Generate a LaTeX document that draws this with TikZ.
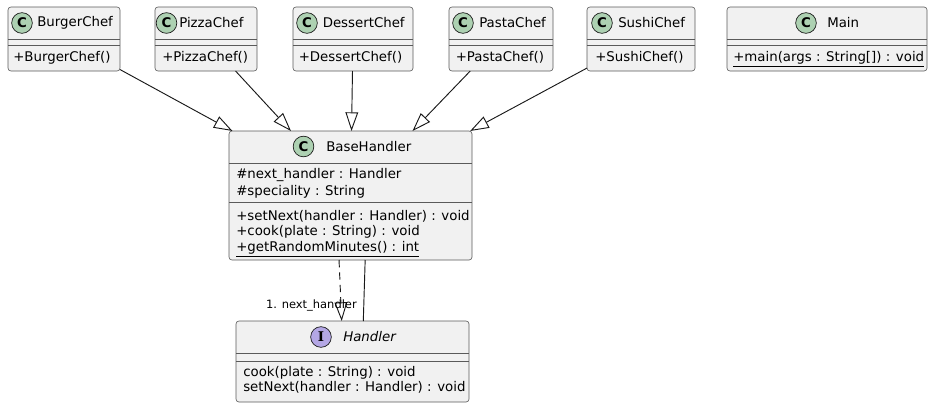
\documentclass[tikz,border=0pt]{standalone}
\usepackage{fontspec}
\setmainfont{DejaVu Sans}
\newfontfamily\iconserif{DejaVu Serif}
\usetikzlibrary{arrows.meta}
\definecolor{umlfill}{HTML}{F1F1F1}
\definecolor{umlline}{HTML}{181818}
\definecolor{umlsep}{HTML}{5A5A5A}
\definecolor{umlgreen}{HTML}{ADD1B2}
\definecolor{umlpurple}{HTML}{B4A7E5}
\tikzset{
  classbox/.style={draw=umlsep, fill=umlfill, line width=0.45pt, rounded corners=2.2pt, inner sep=0pt, outer sep=0pt},
  classicon/.style={circle, draw=umlline, line width=0.5pt, inner sep=0pt, minimum size=15.5pt, font=\fontsize{10}{10}\selectfont\bfseries},
  classname/.style={anchor=west, inner sep=0pt, font=\fontsize{10}{12}\selectfont},
  member/.style={anchor=west, inner sep=0pt, text height=7.4pt, text depth=2.1pt, font=\fontsize{10}{12}\selectfont},
  extends/.style={draw=umlline, line width=0.7pt, -{Triangle[open, length=14pt, width=9.5pt]}},
  edgelabel/.style={anchor=east, inner sep=0pt, font=\fontsize{8.6}{10}\selectfont}
}
\def\classbox(#1)(#2:#3:#4:#5){\node[classbox, minimum width={(#4-#2)*0.75pt}, minimum height={(#5-#3)*0.75pt}] (#1) at ({(#2+#4)/2},{(#3+#5)/2}) {};}
\def\sepline(#1)(#2){\draw[umlsep, line width=0.45pt] (#1.west |- 0,#2) -- (#1.east |- 0,#2);}

\begin{document}
\begin{tikzpicture}[x=0.75pt, y=-0.75pt]
			\useasboundingbox (0,0) rectangle (933,407);
			%%%%% CHEFS %%%%%
			\classbox(burger)(8:7:120:71)
			\sepline(burger)(39) \sepline(burger)(45)
			\node[classicon, fill=umlgreen] (burgerIcon) at (22,23) {C};
			\node[classname] (burgerName) at (37,23) {BurgerChef};
			\node[member] (burgerCtor) at (13,58) {+BurgerChef()};
			
			\classbox(pizza)(155:7:257:71)
			\sepline(pizza)(39) \sepline(pizza)(45)
			\node[classicon, fill=umlgreen] (pizzaIcon) at (166.5,23) {C};
			\node[classname] (pizzaName) at (179,23) {PizzaChef};
			\node[member] (pizzaCtor) at (162,58) {+PizzaChef()};
			
			\classbox(dessert)(293:7:413:71)
			\sepline(dessert)(39) \sepline(dessert)(45)
			\node[classicon, fill=umlgreen] (dessertIcon) at (307,23) {C};
			\node[classname] (dessertName) at (322.5,23) {DessertChef};
			\node[member] (dessertCtor) at (298.5,58) {+DessertChef()};
			
			\classbox(pasta)(449:7:553:71)
			\sepline(pasta)(39) \sepline(pasta)(45)
			\node[classicon, fill=umlgreen] (pastaIcon) at (463,23) {C};
			\node[classname] (pastaName) at (479,23) {PastaChef};
			\node[member] (pastaCtor) at (455.5,58) {+PastaChef()};
			
			\classbox(sushi)(587:7:695:71)
			\sepline(sushi)(39) \sepline(sushi)(45)
			\node[classicon, fill=umlgreen] (sushiIcon) at (602,23) {C};
			\node[classname] (sushiName) at (618,23) {SushiChef};
			\node[member] (sushiCtor) at (595,58) {+SushiChef()};
			
			\classbox(main)(727:7:927:71)
			\sepline(main)(39) \sepline(main)(45)
			\node[classicon, fill=umlgreen] (mainIcon) at (806,23) {C};
			\node[classname] (mainName) at (827,23) {Main};
			\node[member] (mainMethod) at (733,58) {\underline{+main(args : String[]) : void}};
			
			%%%%% HANDLERS %%%%%
			\classbox(base)(229:131:472:260)
			\sepline(base)(163) \sepline(base)(202)
			\node[classicon, fill=umlgreen] (baseIcon) at (303.5,146.5) {C};
			\node[classname] (baseName) at (326,146.5) {BaseHandler};
			\node[member] (baseNext) at (236,175) {\#next\_handler : Handler};
			\node[member] (baseSpec) at (236,192) {\#speciality : String};
			\node[member] (baseSetNext) at (236,217) {+setNext(handler : Handler) : void};
			\node[member] (baseCook) at (236,232) {+cook(plate : String) : void};
			\node[member] (baseMinutes) at (236,248) {\underline{+getRandomMinutes() : int}};
			
			\classbox(handler)(236:321:469:402)
			\sepline(handler)(353) \sepline(handler)(361)
			\node[classicon, fill=umlpurple, font=\fontsize{10}{10}\selectfont\iconserif\bfseries] (handlerIcon) at (321,337) {I};
			\node[classname, font=\fontsize{10}{12}\selectfont\itshape] (handlerName) at (343,337) {Handler};
			\node[member] (handlerCook) at (243,373) {cook(plate : String) : void};
			\node[member] (handlerSetNext) at (243,388) {setNext(handler : Handler) : void};
			
			%%%%% LINKS %%%%%
			\draw[extends] (burger) -- (base);
			\draw[extends] (pizza) -- (base);
			\draw[extends] (dessert) -- (base);
			\draw[extends] (pasta) -- (base);
			\draw[extends] (sushi) -- (base);
			
			\draw[extends, dash pattern=on 5.5pt off 3.8pt] ([xshift=-8.6pt]base.south) -- ([xshift=-8.1pt]handler.north);
			\draw[umlline, line width=0.7pt] ([xshift=11pt]base.south) -- ([xshift=8.1pt]handler.north);
			\node[edgelabel] (nextLabel) at (357,305) {1. next\_handler};
		\end{tikzpicture}
\end{document}
